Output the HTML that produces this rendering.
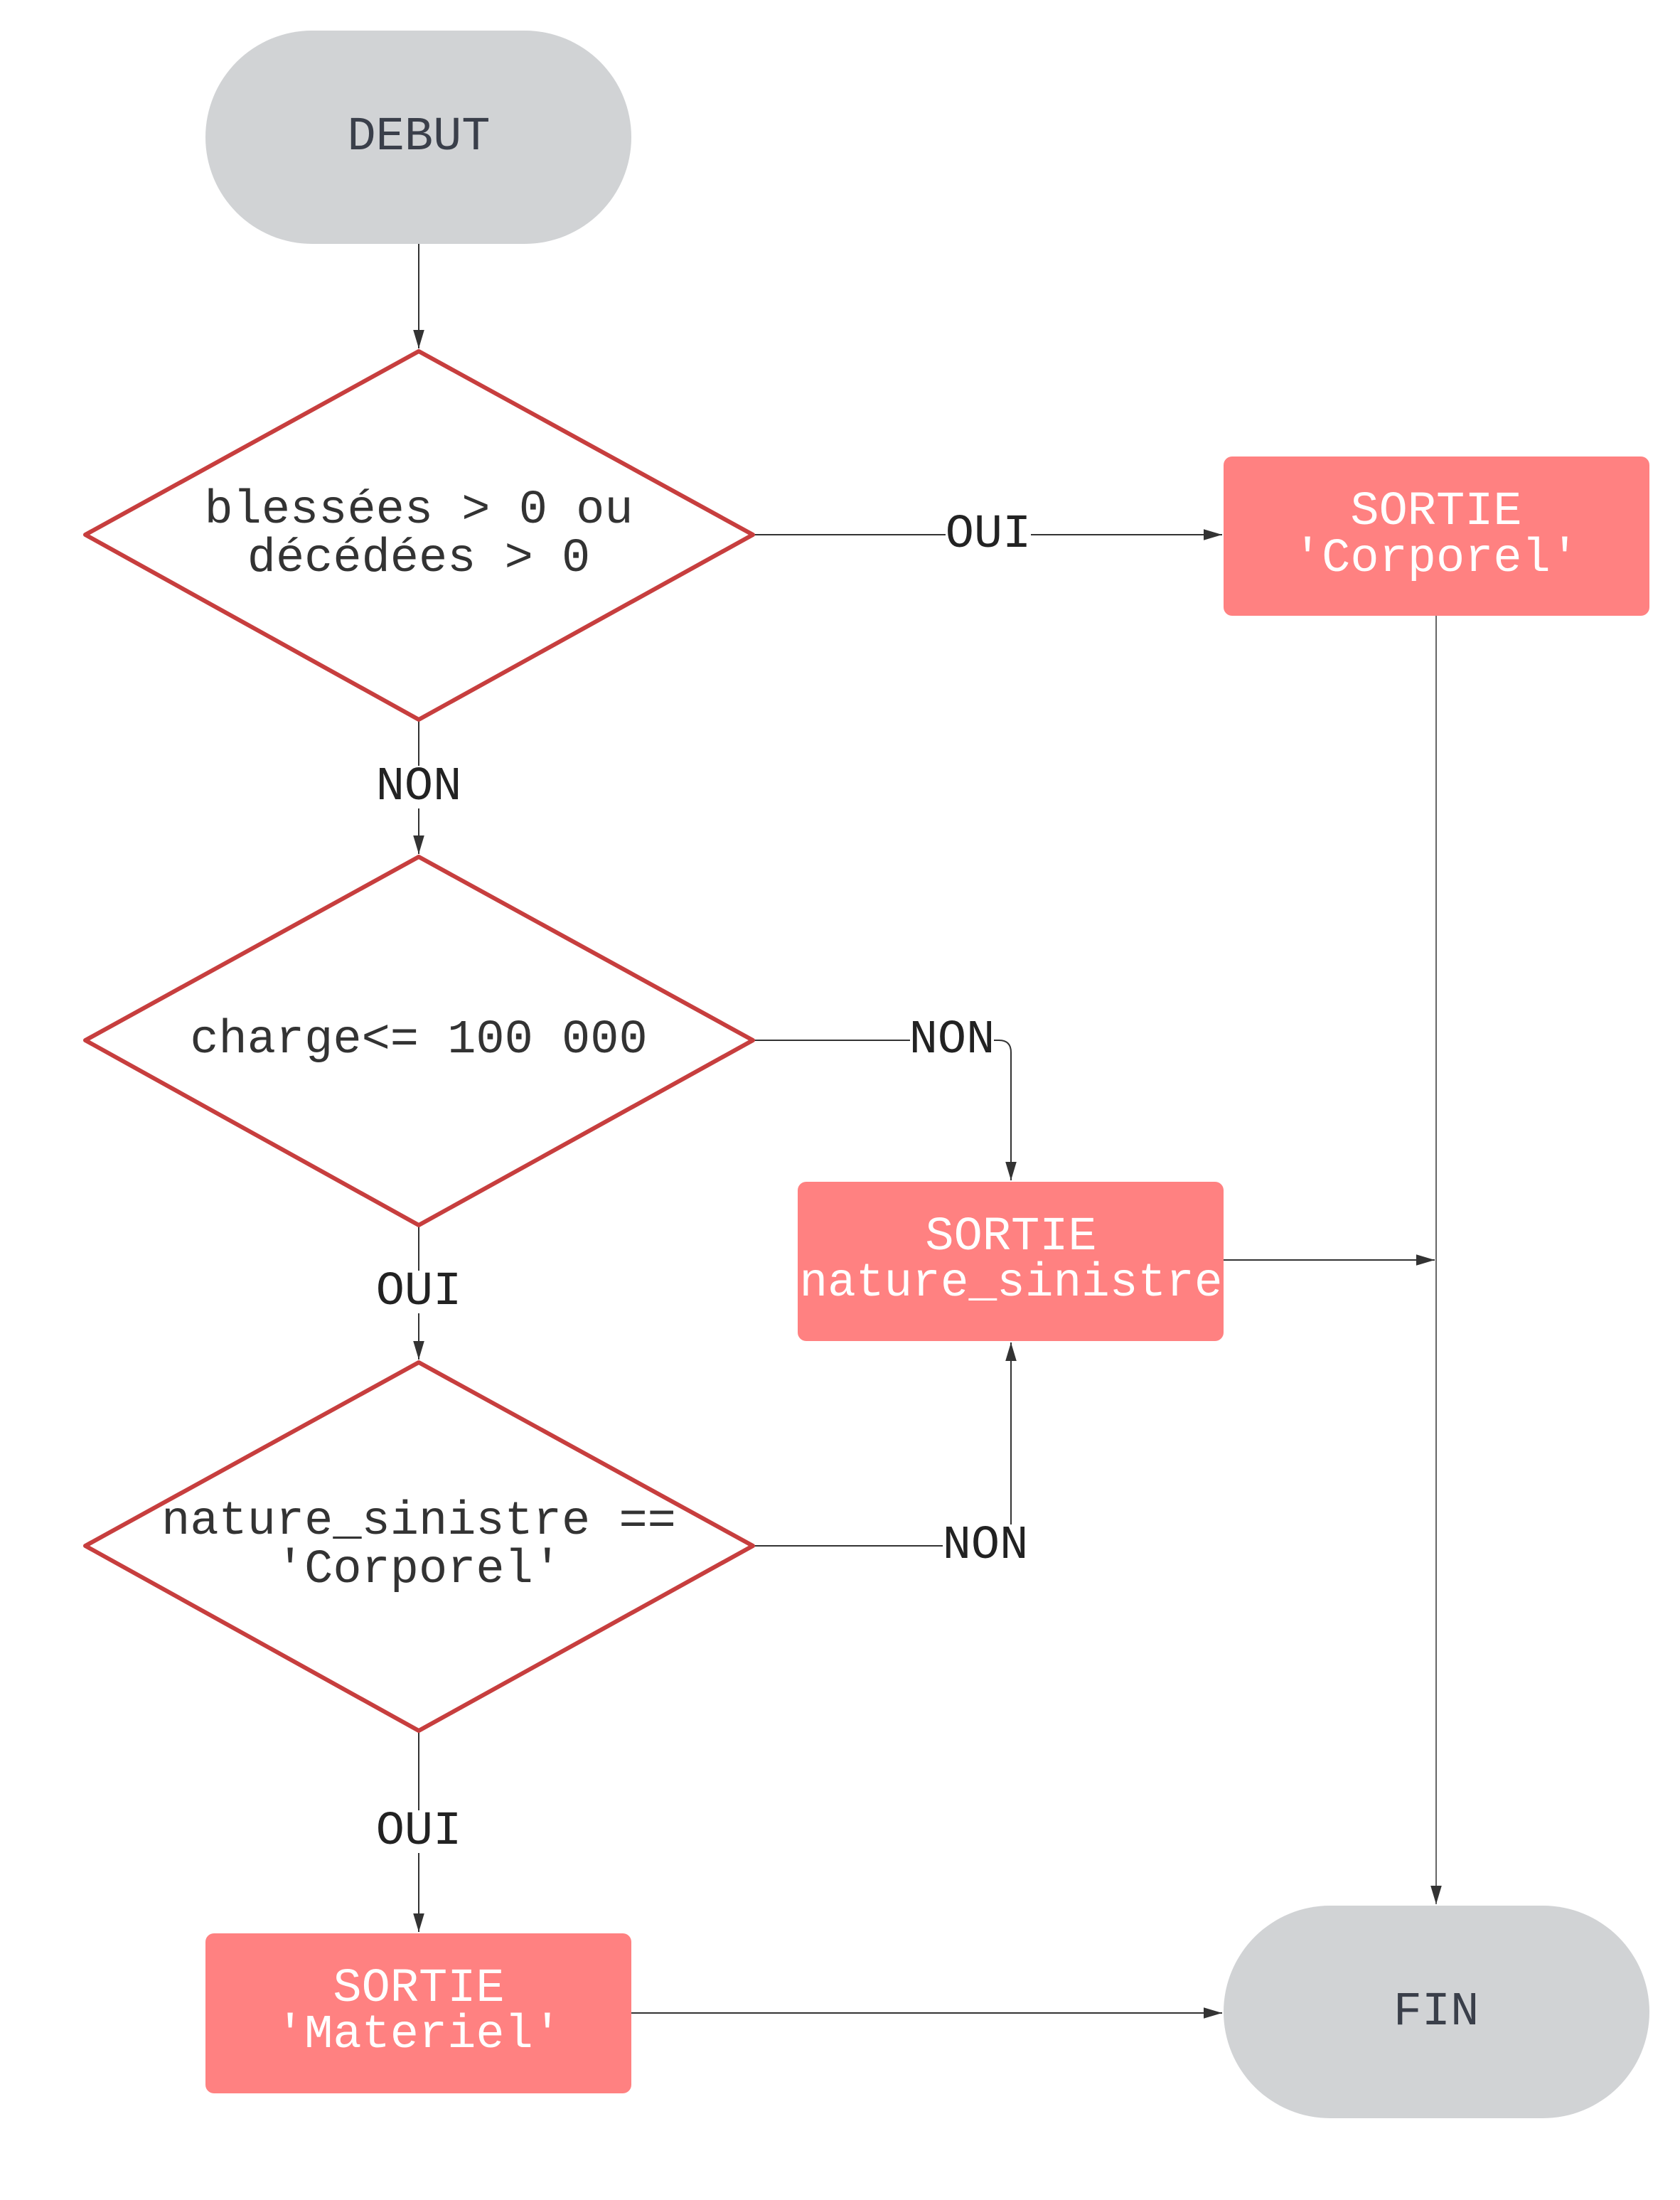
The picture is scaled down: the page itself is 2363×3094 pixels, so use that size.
<!DOCTYPE html>
<html><head><meta charset="utf-8"><style>
html,body{margin:0;padding:0;background:#fff;}
svg{display:block;}
text{font-family:"Liberation Mono",monospace;font-size:67px;text-anchor:middle;dominant-baseline:central;}
.d{fill:#333;}
.w{fill:#fff;}
.g{fill:#3a3f4a;}
.lbl{fill:#222;}
</style></head><body>
<svg width="2363" height="3094" viewBox="0 0 2363 3094" xmlns="http://www.w3.org/2000/svg">
<defs>
<marker id="b" viewBox="0 0 20 12" markerWidth="26" markerHeight="16" refX="20" refY="6" orient="auto" markerUnits="userSpaceOnUse">
<path d="M0,0 L20,6 L0,12 z" fill="#333"/>
</marker>
</defs>
<g stroke="#333" stroke-width="2" fill="none">
<line x1="589" y1="343" x2="589" y2="490" marker-end="url(#b)"/>
<line x1="1061" y1="752" x2="1719" y2="752" marker-end="url(#b)"/>
<line x1="589" y1="1014" x2="589" y2="1201" marker-end="url(#b)"/>
<path d="M1061,1463 H1405 Q1422,1463 1422,1480 V1660" marker-end="url(#b)"/>
<line x1="589" y1="1725" x2="589" y2="1912" marker-end="url(#b)"/>
<path d="M1061,2174 H1422 V1888" marker-end="url(#b)"/>
<line x1="589" y1="2436" x2="589" y2="2717" marker-end="url(#b)"/>
<line x1="1721" y1="1772" x2="2018" y2="1772" marker-end="url(#b)"/>
<line x1="2020" y1="866" x2="2020" y2="2678" stroke-width="1.5" marker-end="url(#b)"/>
<line x1="888" y1="2831" x2="1719" y2="2831" marker-end="url(#b)"/>
</g>
<rect x="289" y="43" width="599" height="300" rx="150" ry="150" fill="#d1d3d5"/>
<text x="589" y="193" class="g">DEBUT</text>
<g fill="#fff" stroke="#c73e3e" stroke-width="6" stroke-linejoin="round">
<path d="M589,494 L1059,752 L589,1012 L120,752 Z"/>
<path d="M589,1205 L1059,1463 L589,1723 L120,1463 Z"/>
<path d="M589,1916 L1059,2174 L589,2434 L120,2174 Z"/>
</g>
<text x="589" y="718" class="d">blessées &gt; 0 ou</text>
<text x="589" y="786" class="d">décédées &gt; 0</text>
<text x="589" y="1463" class="d">charge&lt;= 100 000</text>
<text x="589" y="2140" class="d">nature_sinistre ==</text>
<text x="589" y="2208" class="d">'Corporel'</text>
<rect x="1721" y="642" width="599" height="224" rx="12" fill="#ff8181"/>
<text x="2020" y="720" class="w">SORTIE</text>
<text x="2020" y="786" class="w">'Corporel'</text>
<rect x="1122" y="1662" width="599" height="224" rx="12" fill="#ff8181"/>
<text x="1422" y="1740" class="w">SORTIE</text>
<text x="1422" y="1805" class="w" textLength="595" lengthAdjust="spacingAndGlyphs">nature_sinistre</text>
<rect x="289" y="2719" width="599" height="225" rx="12" fill="#ff8181"/>
<text x="589" y="2797" class="w">SORTIE</text>
<text x="589" y="2862" class="w">'Materiel'</text>
<rect x="1721" y="2680" width="599" height="299" rx="150" ry="150" fill="#d1d3d5"/>
<text x="2020" y="2830" class="g">FIN</text>
<g>
<rect x="1330" y="722" width="120" height="60" fill="#fff"/>
<text x="1390" y="752" class="lbl">OUI</text>
<rect x="528" y="1077" width="122" height="60" fill="#fff"/>
<text x="589" y="1107" class="lbl">NON</text>
<rect x="1280" y="1433" width="118" height="60" fill="#fff"/>
<text x="1339" y="1463" class="lbl">NON</text>
<rect x="528" y="1787" width="122" height="60" fill="#fff"/>
<text x="589" y="1817" class="lbl">OUI</text>
<rect x="1326" y="2144" width="120" height="60" fill="#fff"/>
<text x="1386" y="2174" class="lbl">NON</text>
<rect x="528" y="2546" width="122" height="60" fill="#fff"/>
<text x="589" y="2576" class="lbl">OUI</text>
</g>
</svg>
</body></html>
